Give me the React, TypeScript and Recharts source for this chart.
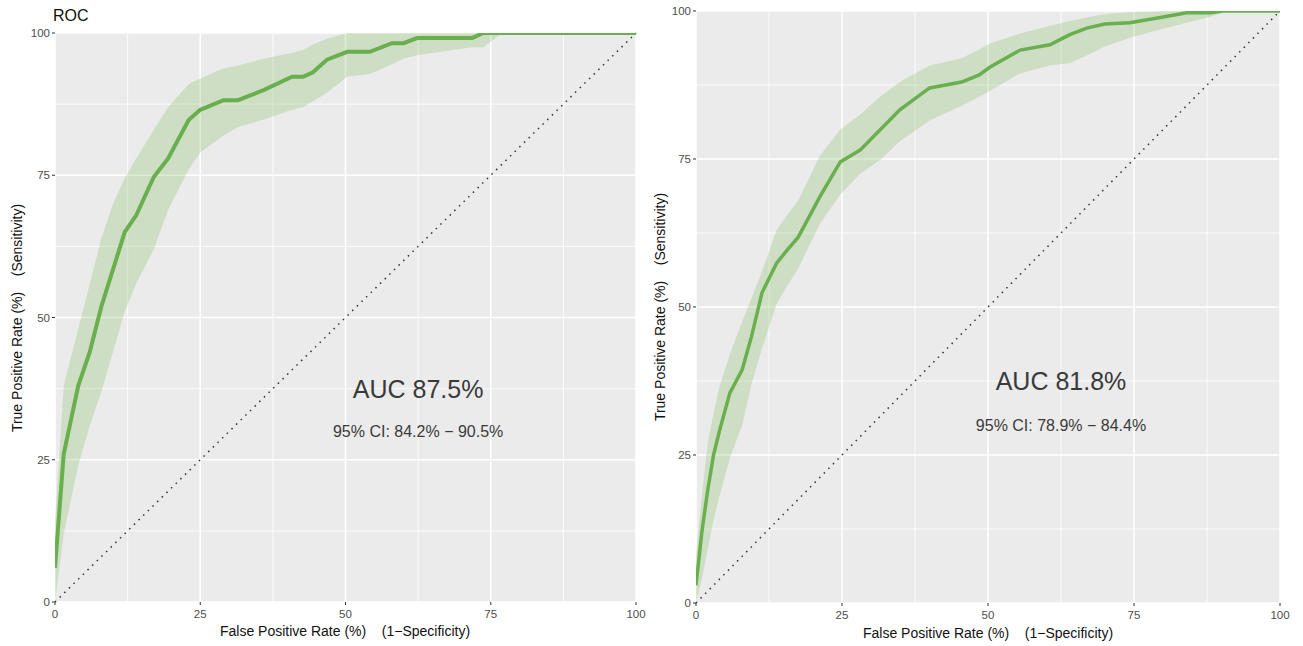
import React from 'react';
import { ComposedChart, Area, Line, XAxis, YAxis, CartesianGrid, ReferenceLine, ReferenceDot } from 'recharts';

// left panel (AUC 87.5%)
const leftFpr = [0, 1.5, 4, 6, 8, 10, 12, 14, 17, 19.5, 23, 25, 29, 31.5, 36, 40.8, 42.7, 44.4, 46.8, 50.3, 54.2, 58, 60, 62.3, 71.8, 73.7, 77, 100];
const leftTpr = [6, 26, 38, 44, 52, 58.5, 65, 68, 74.7, 78, 84.7, 86.5, 88.2, 88.2, 90, 92.3, 92.3, 93.1, 95.3, 96.7, 96.7, 98.2, 98.2, 99.1, 99.1, 100, 100, 100];
const leftLow = [0, 12, 24, 31, 37, 44, 51, 56, 62, 69, 76, 79, 82, 83.5, 84.8, 86.5, 87, 88, 89.5, 92.3, 92.8, 94.5, 95.5, 96.1, 97.5, 97.5, 100, 100];
const leftHigh = [14, 38, 48, 56, 64, 70, 74.5, 78, 83, 87, 91, 92, 93.8, 94.3, 95.5, 96.5, 97, 98, 99, 100, 100, 100, 100, 100, 100, 100, 100, 100];

// right panel (AUC 81.8%)
const rightFpr = [0, 1, 2, 3, 4, 5.8, 7.9, 9.5, 11.3, 13.8, 15.6, 17.5, 21.2, 24.7, 28.1, 31.5, 34.9, 40, 45.5, 48.5, 50.3, 55.5, 60.6, 64, 66.9, 70, 74.3, 80, 84, 88, 90.3, 93, 100];
const rightTpr = [3, 12, 19, 25, 29, 35.5, 39.4, 45, 52.4, 57.4, 59.6, 61.8, 68.6, 74.5, 76.5, 79.9, 83.3, 87, 88, 89.2, 90.5, 93.4, 94.3, 96, 97.1, 97.8, 98, 99, 99.7, 99.7, 100, 100, 100];
const rightLow = [0, 4, 9, 14, 18, 24.5, 30, 37, 43, 50.5, 53.5, 56.5, 64, 69, 72.5, 74.8, 78, 81.5, 84, 85.5, 86.5, 89.5, 90.8, 91.2, 92.5, 94, 95.5, 97, 98, 99, 99.8, 100, 100];
const rightHigh = [8, 18, 27, 32, 36.5, 42, 47.5, 51.5, 56, 63, 65.5, 68, 75.5, 80, 82.5, 85.5, 88, 90.8, 92, 93.5, 94.5, 96.2, 97.5, 98.3, 98.9, 99.5, 99.8, 100, 100, 100, 100, 100, 100];

const axisTicks = [0, 25, 50, 75, 100];
const minorTicks = [12.5, 37.5, 62.5, 87.5];
const diagonal = [{ x: 0, y: 0 }, { x: 100, y: 100 }];

const leftAuc = 'AUC 87.5%';
const leftCi = '95% CI: 84.2% \u2212 90.5%';
const rightAuc = 'AUC 81.8%';
const rightCi = '95% CI: 78.9% \u2212 84.4%';

const FONT = '"Liberation Sans", Arial, Helvetica, sans-serif';
const GREEN = '#6AAF4E';
const xTitle = 'False Positive Rate (%)\u00A0\u00A0\u00A0\u00A0(1\u2212Specificity)';
const yTitle = 'True Positive Rate (%)\u00A0\u00A0\u00A0\u00A0(Sensitivity)';

const build = (fpr: number[], tpr: number[], lo: number[], hi: number[]) =>
  fpr.map((f, i) => ({ fpr: f, tpr: tpr[i], band: [lo[i], hi[i]] }));

const textShape = (value: string, size: number) => (p: any) => (
  <text x={p.cx} y={p.cy} textAnchor="middle" dominantBaseline="central" fontSize={size} fill="#3a3a3a" fontFamily={FONT}>
    {value}
  </text>
);

type RocProps = {
  data: { fpr: number; tpr: number; band: number[] }[];
  width: number;
  height: number;
  margin: { top: number; right: number; bottom: number; left: number };
  xHeight: number;
  auc: string;
  ci: string;
  lineWidth: number;
};

const RocPanel: React.FC<RocProps> = ({ data, width, height, margin, xHeight, auc, ci, lineWidth }) => {
  const tick = { fontSize: 11.5, fill: '#4D4D4D', fontFamily: FONT };
  return (
    <ComposedChart width={width} height={height} data={data} margin={margin}>
      <CartesianGrid fill="#EBEBEB" stroke="#FFFFFF" strokeWidth={0.8} horizontalValues={minorTicks} verticalValues={minorTicks} />
      <CartesianGrid stroke="#FFFFFF" strokeWidth={1.6} horizontalValues={axisTicks} verticalValues={axisTicks} />
      <XAxis type="number" dataKey="fpr" domain={[0, 100]} ticks={axisTicks} height={xHeight} axisLine={false}
        tickLine={{ stroke: '#333' }} tickSize={3} tickMargin={5} tick={tick} allowDataOverflow />
      <YAxis type="number" domain={[0, 100]} ticks={axisTicks} width={25} axisLine={false}
        tickLine={{ stroke: '#333' }} tickSize={3} tickMargin={2} tick={tick} allowDataOverflow />
      <Area type="linear" dataKey="band" stroke="none" fill="#7DBE5E" fillOpacity={0.27} isAnimationActive={false} />
      <ReferenceLine segment={diagonal} stroke="#333" strokeWidth={1.5} strokeDasharray="1.5 5" ifOverflow="visible" />
      <Line type="linear" dataKey="tpr" stroke={GREEN} strokeWidth={lineWidth} dot={false} activeDot={false} isAnimationActive={false} />
      <ReferenceDot x={62.5} y={37.5} r={0} shape={textShape(auc, 25)} />
      <ReferenceDot x={62.5} y={30} r={0} shape={textShape(ci, 16)} />
    </ComposedChart>
  );
};

const axisTitle: React.CSSProperties = { position: 'absolute', fontFamily: FONT, fontSize: 14, color: '#111', whiteSpace: 'pre', lineHeight: '16px' };

export default function App() {
  const leftData = build(leftFpr, leftTpr, leftLow, leftHigh);
  const rightData = build(rightFpr, rightTpr, rightLow, rightHigh);
  return (
    <div style={{ position: 'fixed', left: 0, top: 0, width: 1303, height: 646, background: '#fff', overflow: 'hidden' }}>
      <div style={{ position: 'absolute', left: 0, top: 0 }}>
        <RocPanel data={leftData} width={650} height={646} margin={{ top: 33, right: 14, bottom: 0, left: 30 }} xHeight={44}
          auc={leftAuc} ci={leftCi} lineWidth={4} />
      </div>
      <div style={{ position: 'absolute', left: 640, top: 0 }}>
        <RocPanel data={rightData} width={663} height={646} margin={{ top: 11, right: 23, bottom: 0, left: 31 }} xHeight={43}
          auc={rightAuc} ci={rightCi} lineWidth={3.5} />
      </div>
      <div style={{ position: 'absolute', left: 53, top: 7, fontFamily: FONT, fontSize: 16, color: '#111' }}>ROC</div>
      <div style={{ ...axisTitle, left: 345, top: 623, transform: 'translateX(-50%)' }}>{xTitle}</div>
      <div style={{ ...axisTitle, left: 988, top: 625, transform: 'translateX(-50%)' }}>{xTitle}</div>
      <div style={{ ...axisTitle, left: 17, top: 318, transform: 'translate(-50%, -50%) rotate(-90deg)' }}>{yTitle}</div>
      <div style={{ ...axisTitle, left: 660, top: 307, transform: 'translate(-50%, -50%) rotate(-90deg)' }}>{yTitle}</div>
    </div>
  );
}
